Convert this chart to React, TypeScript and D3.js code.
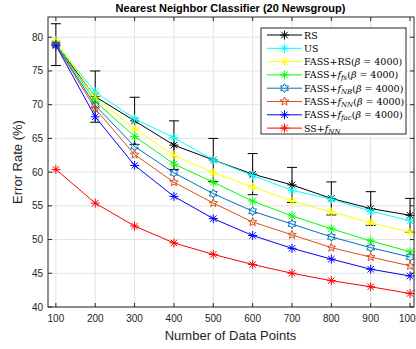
import React from 'react';
import * as d3 from 'd3';

const dataPoints = [100, 200, 300, 400, 500, 600, 700, 800, 900, 1000];
const xTicks = [100, 200, 300, 400, 500, 600, 700, 800, 900, 1000];
const yTicks = [40, 45, 50, 55, 60, 65, 70, 75, 80];

const rsValues = [78.9, 71.2, 67.6, 64.0, 61.8, 59.7, 58.1, 56.1, 54.6, 53.6];
const rsError = [3.1, 3.8, 3.5, 3.6, 3.2, 3.05, 2.6, 2.45, 2.5, 2.5];
const usValues = [79.0, 71.9, 67.9, 65.1, 61.8, 59.5, 57.3, 56.0, 54.2, 52.8];
const fassRsValues = [79.5, 71.1, 66.4, 62.5, 59.9, 57.8, 55.7, 54.1, 52.5, 51.1];
const fassFsValues = [79.0, 70.5, 65.3, 61.2, 58.5, 55.7, 53.5, 51.6, 49.8, 48.2];
const fassNbValues = [78.9, 69.9, 63.8, 59.9, 56.8, 54.2, 52.3, 50.4, 48.8, 47.4];
const fassNnValues = [78.9, 69.4, 62.6, 58.5, 55.4, 52.6, 50.7, 48.8, 47.4, 46.1];
const fassFacValues = [78.8, 68.2, 61.0, 56.4, 53.1, 50.6, 48.7, 47.1, 45.6, 44.6];
const ssNnValues = [60.4, 55.4, 52.0, 49.5, 47.8, 46.3, 45.0, 43.9, 43.0, 42.0];

type Series = { name: string; values: number[]; color: string; marker: string };

const seriesList: Series[] = [
  { name: 'RS', values: rsValues, color: '#000000', marker: 'asterisk' },
  { name: 'US', values: usValues, color: '#00FFFF', marker: 'asterisk' },
  { name: 'FASS+RS', values: fassRsValues, color: '#FFFF00', marker: 'asterisk' },
  { name: 'FASS+fs', values: fassFsValues, color: '#00FF00', marker: 'asterisk' },
  { name: 'FASS+NB', values: fassNbValues, color: '#0072BD', marker: 'hexagram' },
  { name: 'FASS+NN', values: fassNnValues, color: '#D95319', marker: 'pentagram' },
  { name: 'FASS+fac', values: fassFacValues, color: '#0000FF', marker: 'asterisk' },
  { name: 'SS+NN', values: ssNnValues, color: '#FF0000', marker: 'asterisk' },
];

// marker shapes, centred on 0,0
const markerPath = (kind: string, r: number) => {
  if (kind === 'asterisk') {
    const d = r * 0.72;
    return `M${-r},0L${r},0M0,${-r}L0,${r}M${-d},${-d}L${d},${d}M${-d},${d}L${d},${-d}`;
  }
  const n = kind === 'hexagram' ? 6 : 5;
  const inner = kind === 'hexagram' ? r * 0.58 : r * 0.42;
  const pts: [number, number][] = [];
  for (let i = 0; i < n * 2; i++) {
    const a = -Math.PI / 2 + (i * Math.PI) / n;
    const rr = i % 2 === 0 ? r : inner;
    pts.push([rr * Math.cos(a), rr * Math.sin(a)]);
  }
  return 'M' + pts.map(p => p.join(',')).join('L') + 'Z';
};

const Label = ({ name }: { name: string }) => {
  const beta = <tspan>(<tspan fontStyle="italic">β</tspan> = 4000)</tspan>;
  const sub = (s: string) => (
    <tspan fontStyle="italic" fontSize={7} dy={2}>{s}</tspan>
  );
  switch (name) {
    case 'FASS+RS':
      return <tspan>FASS+RS{beta}</tspan>;
    case 'FASS+fs':
      return <tspan>FASS+<tspan fontStyle="italic">f</tspan>{sub('fs')}<tspan dy={-2}>{beta}</tspan></tspan>;
    case 'FASS+NB':
      return <tspan>FASS+<tspan fontStyle="italic">f</tspan>{sub('NB')}<tspan dy={-2}>{beta}</tspan></tspan>;
    case 'FASS+NN':
      return <tspan>FASS+<tspan fontStyle="italic">f</tspan>{sub('NN')}<tspan dy={-2}>{beta}</tspan></tspan>;
    case 'FASS+fac':
      return <tspan>FASS+<tspan fontStyle="italic">f</tspan>{sub('fac')}<tspan dy={-2}>{beta}</tspan></tspan>;
    case 'SS+NN':
      return <tspan>SS+<tspan fontStyle="italic">f</tspan>{sub('NN')}</tspan>;
    default:
      return <tspan>{name}</tspan>;
  }
};

const App = () => {
  const width = 416;
  const height = 349;
  const margin = { top: 17, right: 2, bottom: 42, left: 48 };

  const x = d3.scaleLinear().domain([80, 1010]).range([margin.left, width - margin.right]);
  const y = d3.scaleLinear().domain([40, 83]).range([height - margin.bottom, margin.top]);

  const line = d3.line<number>()
    .x((_, i) => x(dataPoints[i]))
    .y(d => y(d));

  const left = margin.left;
  const right = width - margin.right;
  const top = margin.top;
  const bottom = height - margin.bottom;
  const sans = 'Liberation Sans, Arial, sans-serif';
  const serif = 'DejaVu Serif, serif';

  const legendX = 261;
  const legendY = 28;
  const rowH = 13.3;

  return (
    <div style={{ position: 'fixed', left: 0, top: 0 }}>
      <svg width={width} height={height} style={{ display: 'block', background: '#fff' }}>
        {/* grid */}
        <g stroke="#e3e3e3" strokeWidth={1}>
          {xTicks.map(t => <line key={'gx' + t} x1={x(t)} x2={x(t)} y1={top} y2={bottom} />)}
          {yTicks.map(t => <line key={'gy' + t} x1={left} x2={right} y1={y(t)} y2={y(t)} />)}
        </g>

        {/* error bars for RS */}
        <g stroke="#000" strokeWidth={1}>
          {dataPoints.map((p, i) => {
            const cx = x(p);
            const y1 = y(rsValues[i] + rsError[i]);
            const y2 = y(rsValues[i] - rsError[i]);
            return (
              <g key={'eb' + p}>
                <line x1={cx} x2={cx} y1={y1} y2={y2} />
                <line x1={cx - 5} x2={cx + 5} y1={y1} y2={y1} />
                <line x1={cx - 5} x2={cx + 5} y1={y2} y2={y2} />
              </g>
            );
          })}
        </g>

        {/* series lines and markers */}
        {seriesList.map(s => (
          <g key={s.name}>
            <path d={line(s.values) || ''} fill="none" stroke={s.color} strokeWidth={1} />
            {s.values.map((v, i) => (
              <path
                key={i}
                d={markerPath(s.marker, 4.5)}
                transform={`translate(${x(dataPoints[i])},${y(v)})`}
                fill="none"
                stroke={s.color}
                strokeWidth={1}
              />
            ))}
          </g>
        ))}

        {/* axes frame and ticks */}
        <rect x={left} y={top} width={right - left} height={bottom - top} fill="none" stroke="#262626" strokeWidth={1} />
        <g stroke="#262626" strokeWidth={1}>
          {xTicks.map(t => (
            <g key={'tx' + t}>
              <line x1={x(t)} x2={x(t)} y1={bottom} y2={bottom - 4} />
              <line x1={x(t)} x2={x(t)} y1={top} y2={top + 4} />
            </g>
          ))}
          {yTicks.map(t => (
            <g key={'ty' + t}>
              <line x1={left} x2={left + 4} y1={y(t)} y2={y(t)} />
              <line x1={right} x2={right - 4} y1={y(t)} y2={y(t)} />
            </g>
          ))}
        </g>
        <g fontFamily={sans} fontSize={10} fill="#262626">
          {xTicks.map(t => (
            <text key={'lx' + t} x={x(t)} y={bottom + 15} textAnchor="middle">{t}</text>
          ))}
          {yTicks.map(t => (
            <text key={'ly' + t} x={left - 5} y={y(t) + 3.5} textAnchor="end">{t}</text>
          ))}
        </g>

        {/* axis labels and title */}
        <text x={(left + 413) / 2} y={340} textAnchor="middle" fontFamily={sans} fontSize={13} fill="#262626">
          Number of Data Points
        </text>
        <text
          transform={`translate(22,${(top + bottom) / 2}) rotate(-90)`}
          textAnchor="middle"
          fontFamily={sans}
          fontSize={13}
          fill="#262626"
        >
          Error Rate (%)
        </text>
        <text x={(left + 413) / 2} y={12} textAnchor="middle" fontFamily={sans} fontSize={11} fontWeight="bold" fill="#000">
          Nearest Neighbor Classifier (20 Newsgroup)
        </text>

        {/* legend */}
        <rect x={legendX} y={legendY} width={145} height={106} fill="#fff" stroke="#262626" strokeWidth={1} />
        {seriesList.map((s, i) => {
          const ry = legendY + 7 + i * rowH;
          return (
            <g key={'lg' + s.name}>
              <line x1={legendX + 6} x2={legendX + 41} y1={ry} y2={ry} stroke={s.color} strokeWidth={1} />
              <path
                d={markerPath(s.marker, 4.5)}
                transform={`translate(${legendX + 23.5},${ry})`}
                fill="none"
                stroke={s.color}
                strokeWidth={1}
              />
              <text x={legendX + 43} y={ry + 3.5} fontFamily={serif} fontSize={9.5} fill="#000">
                <Label name={s.name} />
              </text>
            </g>
          );
        })}
      </svg>
    </div>
  );
};

export default App;
